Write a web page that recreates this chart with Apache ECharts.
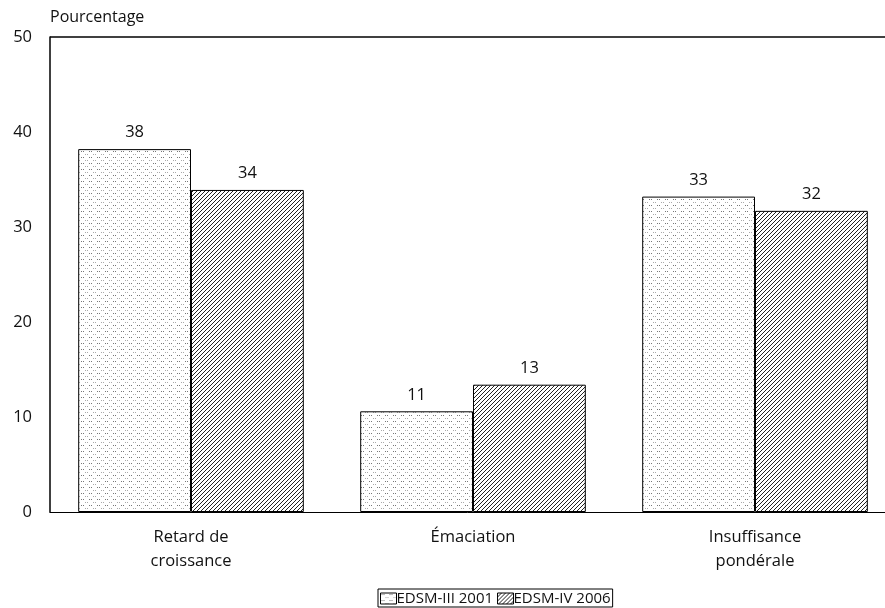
<!DOCTYPE html>
<html><head><meta charset="utf-8">
<script src="https://cdn.jsdelivr.net/npm/echarts@6/dist/echarts.min.js"></script>
<style>html,body{margin:0;padding:0;background:#fff}#c{width:885px;height:608px}</style>
</head><body><div id="c"></div>
<script>
var categories = ['Retard de\ncroissance', 'Émaciation', 'Insuffisance\npondérale'];
var seriesNames = ['EDSM-III 2001', 'EDSM-IV 2006'];
var valuesIII = [38.2, 10.6, 33.2];
var valuesIV = [33.9, 13.4, 31.7];
var yTicks = [0, 10, 20, 30, 40, 50];

function dotPattern() {
  var c = document.createElement('canvas');
  c.width = 8; c.height = 6;
  var g = c.getContext('2d');
  g.fillStyle = '#fff'; g.fillRect(0, 0, 8, 6);
  g.fillStyle = '#777';
  g.fillRect(1, 1, 1, 1); g.fillRect(3, 1, 1, 1);
  g.fillStyle = '#aaa';
  g.fillRect(5, 4, 1, 1); g.fillRect(7, 4, 1, 1);
  return {image: c, repeat: 'repeat'};
}
function hatchPattern() {
  var c = document.createElement('canvas');
  c.width = 4; c.height = 4;
  var g = c.getContext('2d');
  g.fillStyle = '#fff'; g.fillRect(0, 0, 4, 4);
  g.strokeStyle = '#222'; g.lineWidth = 1;
  g.beginPath();
  g.moveTo(-1, 5); g.lineTo(5, -1);
  g.moveTo(-1, 1); g.lineTo(1, -1);
  g.moveTo(3, 5); g.lineTo(5, 3);
  g.stroke();
  return {image: c, repeat: 'repeat'};
}

var font = '"Open Sans", Lato, sans-serif';
var chart = echarts.init(document.getElementById('c'), null, {renderer: 'canvas'});
chart.setOption({
  animation: false,
  textStyle: {fontFamily: font, color: '#111'},
  grid: {left: 50, width: 846, top: 37, bottom: 96, show: false, containLabel: false, outerBoundsMode: 'none'},
  legend: {
    bottom: 1, left: 378,
    data: seriesNames, icon: 'rect',
    itemWidth: 16, itemHeight: 11, itemGap: 4,
    borderColor: '#000', borderWidth: 1, padding: [2, 2, 1, 2],
    textStyle: {fontFamily: font, fontSize: 15, color: '#111', padding: [0, 0, 0, -5]},
    itemStyle: {borderColor: '#000', borderWidth: 1}
  },
  xAxis: {
    type: 'category', data: categories,
    axisLine: {lineStyle: {color: '#000', width: 1}},
    axisTick: {show: false},
    axisLabel: {fontFamily: font, fontSize: 16.5, color: '#111', margin: 13, lineHeight: 24}
  },
  yAxis: [{
    type: 'value', min: 0, max: 50, interval: 10,
    name: 'Pourcentage', nameLocation: 'end', nameGap: 12,
    nameTextStyle: {fontFamily: font, fontSize: 16, color: '#111', align: 'left', padding: [0, 0, 0, 0]},
    axisLine: {show: true, lineStyle: {color: '#000', width: 1.5}},
    axisTick: {show: false},
    splitLine: {show: false},
    axisLabel: {fontFamily: font, fontSize: 16.5, color: '#111', margin: 18,
      formatter: function (v) { return yTicks.indexOf(v) >= 0 ? String(v) : ''; }}
  }],
  series: [
    {name: seriesNames[0], type: 'bar', data: valuesIII, barGap: '0%', barCategoryGap: '20%',
     itemStyle: {color: dotPattern(), borderColor: '#000', borderWidth: 1},
     label: {show: true, position: 'top', distance: 8, fontFamily: font, fontSize: 16.5, color: '#111',
       formatter: function (p) { return Math.round(p.value); }}},
    {name: seriesNames[1], type: 'bar', data: valuesIV,
     itemStyle: {color: hatchPattern(), borderColor: '#000', borderWidth: 1},
     label: {show: true, position: 'top', distance: 8, fontFamily: font, fontSize: 16.5, color: '#111',
       formatter: function (p) { return Math.round(p.value); }}}
  ],
  graphic: [{type: 'line', shape: {x1: 50, y1: 37, x2: 885, y2: 37}, style: {stroke: '#000', lineWidth: 1.5}}]
});
</script></body></html>
